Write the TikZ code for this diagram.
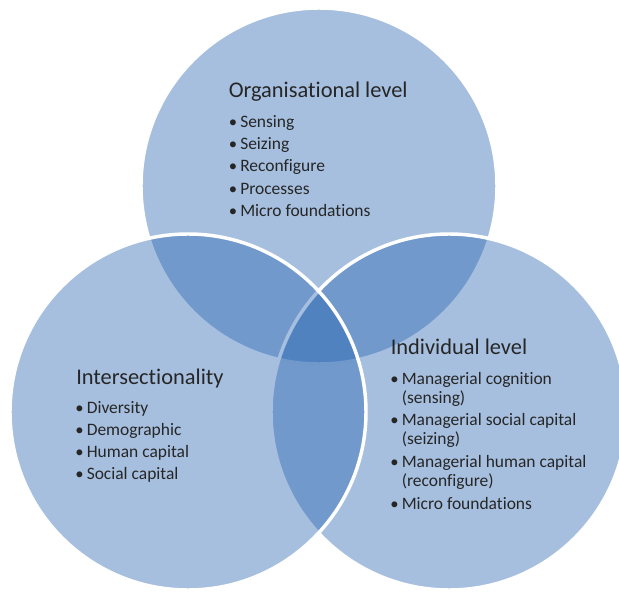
\documentclass[tikz,border=0pt]{standalone}
\usepackage{fontspec}
\setmainfont{Carlito}[Ligatures=NoCommon]
\usepackage{tikz}
\definecolor{vennblue}{RGB}{33,95,175}
\definecolor{inkgrey}{HTML}{262626}

\begin{document}
\begin{tikzpicture}[x=0.75pt,y=-0.75pt,
    venn/.style={fill=vennblue,fill opacity=0.4,draw=white,line width=2.6pt},
    heading/.style={anchor=base west,inner sep=0pt,text=inkgrey,
      font=\fontsize{16.8}{20}\selectfont},
    entry/.style={anchor=base west,inner sep=0pt,text=inkgrey,
      font=\fontsize{13.1}{16}\selectfont},
    dot/.style={entry,font=\fontsize{12.5}{15}\selectfont}]
  \useasboundingbox (0,0) rectangle (619,592);
  \clip (0,0) rectangle (619,592);
  % circles: organisational, individual, intersectionality (last one on top)
  \path[venn] (319,186) circle[radius=178];
  \path[venn] (449,412) circle[radius=178];
  \path[venn] (188,412) circle[radius=178];

  % organisational level
  \node[heading] (org) at (228.5,97.7) {Organisational level};
  \foreach \txt [count=\i] in {Sensing,Seizing,Reconfigure,Processes,Micro foundations}{
    \node[dot] (orgdot\i) at (228.5,{127.3+22.35*(\i-1)}) {•};
    \node[entry] (org\i) at (240,{127.3+22.35*(\i-1)}) {\txt};
  }

  % intersectionality
  \node[heading] (sect) at (76,384) {Intersectionality};
  \foreach \txt [count=\i] in {Diversity,Demographic,Human capital,Social capital}{
    \node[dot] (sectdot\i) at (75,{413.3+22.2*(\i-1)}) {•};
    \node[entry] (sect\i) at (86.5,{413.3+22.2*(\i-1)}) {\txt};
  }

  % individual level
  \node[heading] (ind) at (390.5,354) {Individual level};
  \foreach \first/\second [count=\i] in {Managerial cognition/(sensing),
      Managerial social capital/(seizing),Managerial human capital/(reconfigure)}{
    \node[dot] (inddot\i) at (390,{384+41.8*(\i-1)}) {•};
    \node[entry] (ind\i) at (401.5,{384+41.8*(\i-1)}) {\first};
    \node[entry] (ind\i b) at (401.5,{403+41.8*(\i-1)}) {\second};
  }
  \node[dot] (inddot4) at (390,509.4) {•};
  \node[entry] (ind4) at (401.5,509.4) {Micro foundations};
\end{tikzpicture}
\end{document}
